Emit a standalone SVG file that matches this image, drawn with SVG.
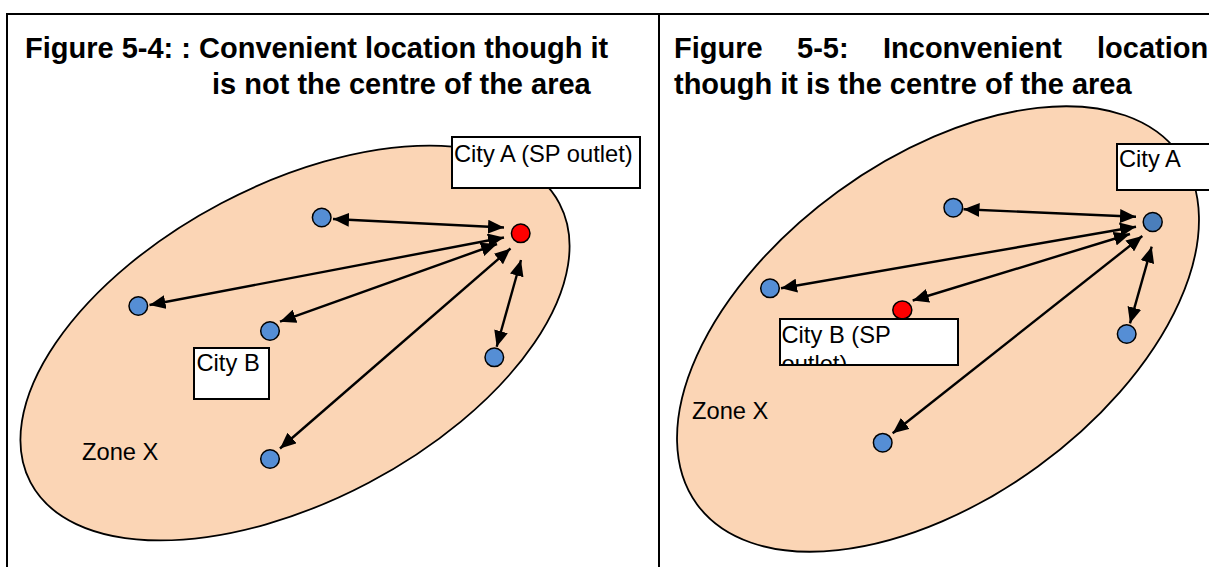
<svg xmlns="http://www.w3.org/2000/svg" width="1209" height="567" viewBox="0 0 1209 567">
<style>
.title{font-family:"Liberation Sans",Arial,sans-serif;font-weight:bold;font-size:29px;fill:#000}
.lbl{font-family:"Liberation Sans",Arial,sans-serif;font-size:23.7px;fill:#000}
.zone{fill:#FBD5B5;stroke:#000;stroke-width:1.8}
.blue{fill:#558ED5;stroke:#000;stroke-width:1.5}
.blue2{fill:#4A7EBB;stroke:#000;stroke-width:1.5}
.red{fill:#FF0000;stroke:#000;stroke-width:1.5}
.box{fill:#fff;stroke:#000;stroke-width:2}
.frame{stroke:#000;stroke-width:2;fill:none}
.con{stroke:#000;stroke-width:2.4;fill:none;marker-start:url(#ah);marker-end:url(#ah)}
</style>
<defs>
<marker id="ah" markerUnits="userSpaceOnUse" markerWidth="17" markerHeight="14" refX="16" refY="7" orient="auto-start-reverse">
<path d="M0,0 L16,7 L0,14 z" fill="#000"/>
</marker>
<clipPath id="clipB"><rect x="780" y="319" width="178" height="46"/></clipPath>
</defs>
<rect width="1209" height="567" fill="#fff"/>
<g id="frame">
<line class="frame" x1="6" y1="14" x2="1209" y2="14"/>
<line class="frame" x1="7" y1="13" x2="7" y2="567"/>
<line class="frame" x1="659" y1="13" x2="659" y2="567"/>
</g>
<g id="titles">
<text class="title" x="25" y="58">Figure 5-4: : Convenient location though it</text>
<text class="title" x="212" y="94">is not the centre of the area</text>
<text class="title" y="58"><tspan x="674">Figure</tspan><tspan x="797">5-5:</tspan><tspan x="883">Inconvenient</tspan><tspan x="1097">location</tspan></text>
<text class="title" x="674" y="94">though it is the centre of the area</text>
</g>
<g id="zone-x-left">
<ellipse class="zone" cx="295" cy="343" rx="299" ry="158" transform="rotate(-27.8 295 343)"/>
<text class="lbl" x="82" y="460">Zone X</text>
</g>
<g id="zone-x-right">
<ellipse class="zone" cx="938" cy="329" rx="298" ry="170" transform="rotate(-36 938 329)"/>
<text class="lbl" x="692" y="419">Zone X</text>
</g>
<g id="connectors">
<line class="con" x1="333" y1="219" x2="504" y2="227.5"/>
<line class="con" x1="149.5" y1="305" x2="504" y2="237.5"/>
<line class="con" x1="280" y1="321.7" x2="497" y2="244"/>
<line class="con" x1="280" y1="448.5" x2="510.5" y2="248.5"/>
<line class="con" x1="496.7" y1="346.7" x2="521" y2="260"/>
<line class="con" x1="963.5" y1="209.3" x2="1136" y2="216.7"/>
<line class="con" x1="781" y1="288.3" x2="1136" y2="226.7"/>
<line class="con" x1="912.7" y1="300.5" x2="1130" y2="234"/>
<line class="con" x1="892.7" y1="433.3" x2="1142.3" y2="236"/>
<line class="con" x1="1130" y1="323.3" x2="1151.7" y2="246.7"/>
</g>
<g id="left-city-a"><circle class="red" cx="520.7" cy="233.3" r="9.3"/></g>
<g id="left-n1"><circle class="blue" cx="321.7" cy="217.5" r="9.3"/></g>
<g id="left-n2"><circle class="blue" cx="138.3" cy="306" r="9.3"/></g>
<g id="left-n3"><circle class="blue" cx="270" cy="331" r="9.3"/></g>
<g id="left-n4"><circle class="blue" cx="494.3" cy="357.3" r="9.3"/></g>
<g id="left-n5"><circle class="blue" cx="270" cy="459" r="9.3"/></g>
<g id="right-city-a"><circle class="blue2" cx="1152.7" cy="222" r="9.5"/></g>
<g id="right-n1"><circle class="blue" cx="953.3" cy="207.7" r="9.3"/></g>
<g id="right-n2"><circle class="blue" cx="770" cy="288.3" r="9.3"/></g>
<g id="right-n3"><circle class="blue" cx="1126.7" cy="334" r="9.3"/></g>
<g id="right-n4"><circle class="blue" cx="882.7" cy="442.7" r="9.3"/></g>
<g id="right-city-b"><ellipse class="red" cx="902.3" cy="310" rx="9.5" ry="9"/></g>
<g id="label-left-city-a">
<rect class="box" x="452" y="137" width="188" height="51"/>
<text class="lbl" x="454" y="162">City A (SP outlet)</text>
</g>
<g id="label-left-city-b">
<rect class="box" x="194" y="348" width="75" height="51"/>
<text class="lbl" x="196.5" y="371">City B</text>
</g>
<g id="label-right-city-a">
<rect class="box" x="1117" y="144" width="100" height="46"/>
<text class="lbl" x="1119" y="167">City A</text>
</g>
<g id="label-right-city-b">
<rect class="box" x="780" y="319" width="178" height="46"/>
<g clip-path="url(#clipB)">
<text class="lbl" x="781.5" y="343">City B (SP</text>
<text class="lbl" x="781.5" y="372">outlet)</text>
</g>
</g>
</svg>
